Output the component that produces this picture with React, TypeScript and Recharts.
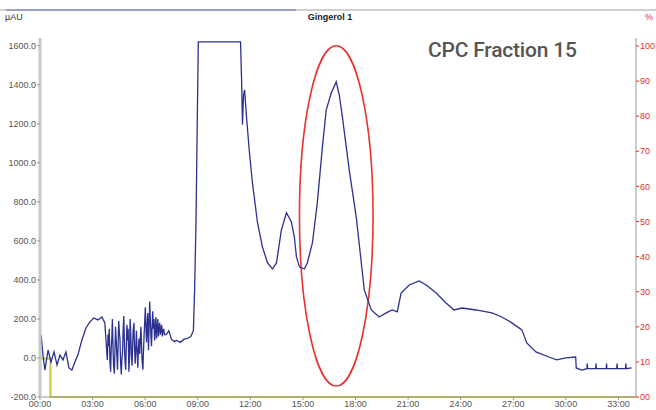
import React from 'react';
import { LineChart, Line, XAxis, YAxis, ReferenceArea } from 'recharts';

// detector trace (minutes, mAU)
const times = [
  0, 0.06, 0.17, 0.28, 0.46, 0.63, 0.8, 0.97, 1.14, 1.31,
  1.48, 1.65, 1.82, 1.99, 2.16, 2.39, 2.62, 2.85, 3.07, 3.3,
  3.53, 3.7, 3.84, 3.88, 3.92, 3.95, 3.99, 4.03, 4.06, 4.1,
  4.13, 4.17, 4.2, 4.24, 4.28, 4.31, 4.35, 4.38, 4.42, 4.46,
  4.49, 4.53, 4.56, 4.6, 4.64, 4.67, 4.71, 4.74, 4.78, 4.82,
  4.85, 4.89, 4.92, 4.96, 5.0, 5.03, 5.07, 5.11, 5.14, 5.18,
  5.21, 5.25, 5.29, 5.32, 5.36, 5.39, 5.43, 5.47, 5.5, 5.54,
  5.58, 5.61, 5.65, 5.69, 5.72, 5.76, 5.8, 5.83, 5.87, 5.9,
  5.94, 5.98, 6.01, 6.05, 6.08, 6.12, 6.15, 6.19, 6.22, 6.26,
  6.29, 6.33, 6.36, 6.4, 6.43, 6.47, 6.5, 6.54, 6.58, 6.61,
  6.65, 6.68, 6.72, 6.76, 6.79, 6.83, 6.87, 6.9, 6.94, 6.98,
  7.02, 7.06, 7.1, 7.2, 7.35, 7.5, 7.65, 7.8, 8.0, 8.2,
  8.4, 8.6, 8.75, 8.82, 8.9, 8.97, 9.03, 11.44, 11.5, 11.55,
  11.61, 11.67, 11.78, 11.95, 12.12, 12.41, 12.69, 12.98, 13.26, 13.49,
  13.77, 14.06, 14.34, 14.51, 14.63, 14.8, 15.08, 15.25, 15.54, 15.82,
  16.11, 16.33, 16.62, 16.9, 17.07, 17.25, 17.64, 18.04, 18.33, 18.5,
  18.9, 19.35, 19.75, 20.09, 20.38, 20.6, 21.06, 21.63, 22.03, 22.6,
  23.16, 23.62, 24.07, 24.87, 25.78, 26.35, 26.92, 27.49, 27.77, 28.29,
  29.03, 29.48, 29.99, 30.56, 30.59, 30.9, 31.2, 31.22, 31.24, 31.7,
  31.72, 31.74, 32.3, 32.32, 32.34, 32.9, 32.92, 32.94, 33.4, 33.42,
  33.44, 33.75,
];
const absorbance = [
  67, 118, 15, -62, 41, -21, 31, -36, 15, -10,
  31, -51, -62, -21, 15, 92, 154, 185, 205, 195,
  210, 180, -10, 120, 60, 150, -20, -70, 40, 110,
  200, 30, -40, -80, 60, 160, 90, 20, -60, 80,
  190, 130, 100, -30, -85, -10, 30, 140, 215, 60,
  -20, -60, 50, 170, 90, 150, -70, 10, 200, 120,
  20, -40, 80, 150, 180, 60, -30, 60, 140, 30,
  -50, 40, 100, 20, 90, 160, 40, -20, -60, 30,
  120, 200, 260, 140, 80, 180, 230, 40, 150, 290,
  200, 110, 60, 170, 240, 150, 200, 90, 160, 210,
  100, 140, 200, 110, 150, 180, 120, 140, 170, 110,
  140, 150, 120, 120, 140, 95, 85, 90, 80, 95,
  100, 110, 140, 350, 700, 1200, 1620, 1620, 1425, 1195,
  1349, 1374, 1236, 1051, 897, 692, 569, 487, 456, 487,
  656, 744, 697, 620, 518, 467, 456, 487, 590, 795,
  1082, 1272, 1359, 1415, 1349, 1236, 964, 723, 487, 349,
  246, 210, 231, 246, 236, 333, 374, 395, 374, 333,
  282, 246, 256, 246, 231, 210, 180, 144, 77, 31,
  5, -10, 0, 5, -51, -62, -55, -28, -55, -55,
  -28, -55, -55, -28, -55, -55, -28, -55, -55, -28,
  -55, -51,
];

// gradient trace (minutes, %)
const gradTimes = [0, 0.6, 0.6, 34];
const gradPercent = [11, 11, 0, 0];

const xTicks = [0, 3, 6, 9, 12, 15, 18, 21, 24, 27, 30, 33];
const leftTicks = [-200, 0, 200, 400, 600, 800, 1000, 1200, 1400, 1600];
const rightTicks = [0, 10, 20, 30, 40, 50, 60, 70, 80, 90, 100];

const traceData = times.map((t, i) => ({ t, v: absorbance[i] }));
const gradData = gradTimes.map((t, i) => ({ t, p: gradPercent[i] }));

const fmtTime = (m: number) => `${String(m).padStart(2, '0')}:00`;

const Ellipse = (p: any) => (
  <ellipse
    cx={p.x + p.width / 2}
    cy={p.y + p.height / 2}
    rx={p.width / 2}
    ry={p.height / 2}
    fill="none"
    stroke="#e8322e"
    strokeWidth={1.6}
  />
);

const small = { fontFamily: 'Liberation Sans, Arial, sans-serif', fontSize: 9 };

export default function App() {
  return (
    <div style={{ position: 'fixed', left: 0, top: 0, width: 656, height: 410, background: '#fff', overflow: 'hidden' }}>
      <div style={{ position: 'absolute', left: 0, top: 9, width: 656, height: 2, background: '#d0d0d0' }} />
      <div style={{ position: 'absolute', left: 6, top: 9, width: 290, height: 2, background: '#9da2c2' }} />
      <div style={{ position: 'absolute', left: 5, top: 12, color: '#333', ...small }}>µAU</div>
      <div style={{ position: 'absolute', left: 300, top: 12, width: 60, textAlign: 'center', color: '#222', fontWeight: 700, ...small }}>Gingerol 1</div>
      <div style={{ position: 'absolute', left: 645, top: 12, color: '#e03030', ...small }}>%</div>
      <div style={{ position: 'absolute', left: 428, top: 38, color: '#555', fontFamily: 'Roboto, sans-serif', fontWeight: 500, fontSize: 21, letterSpacing: -0.2 }}>
        CPC Fraction 15
      </div>
      <LineChart width={656} height={410} margin={{ top: 38, right: 0, bottom: 0, left: 0 }} style={{ position: 'absolute', left: 0, top: 0 }}>
        <XAxis
          dataKey="t"
          type="number"
          domain={[0, 34]}
          ticks={xTicks}
          tickFormatter={fmtTime}
          height={13}
          tickSize={3}
          tickMargin={1}
          stroke="#999"
          tick={{ fill: '#555', ...small }}
          allowDuplicatedCategory={false}
        />
        <YAxis
          yAxisId="left"
          domain={[-200, 1640]}
          ticks={leftTicks}
          tickFormatter={(v: number) => v.toFixed(1)}
          width={40}
          tickSize={3}
          tickMargin={1}
          axisLine={{ stroke: '#c8c8c8', strokeWidth: 3 }}
          tickLine={{ stroke: '#999' }}
          tick={{ fill: '#555', ...small }}
        />
        <YAxis
          yAxisId="right"
          orientation="right"
          domain={[0, 102.28]}
          ticks={rightTicks}
          tickFormatter={(v: number) => (v === 0 ? '00' : String(v))}
          width={20}
          tickSize={3}
          tickMargin={1}
          axisLine={{ stroke: '#999' }}
          tickLine={{ stroke: '#e03030' }}
          tick={{ fill: '#e03030', ...small }}
        />
        <Line
          yAxisId="right"
          data={gradData}
          dataKey="p"
          type="linear"
          stroke="#c8c83a"
          strokeWidth={2}
          dot={false}
          isAnimationActive={false}
        />
        <Line
          yAxisId="left"
          data={traceData}
          dataKey="v"
          type="linear"
          stroke="#2b3190"
          strokeWidth={1.3}
          dot={false}
          isAnimationActive={false}
        />
        <ReferenceArea yAxisId="left" x1={14.8} x2={19.0} y1={-144} y2={1600} shape={Ellipse} />
      </LineChart>
    </div>
  );
}
